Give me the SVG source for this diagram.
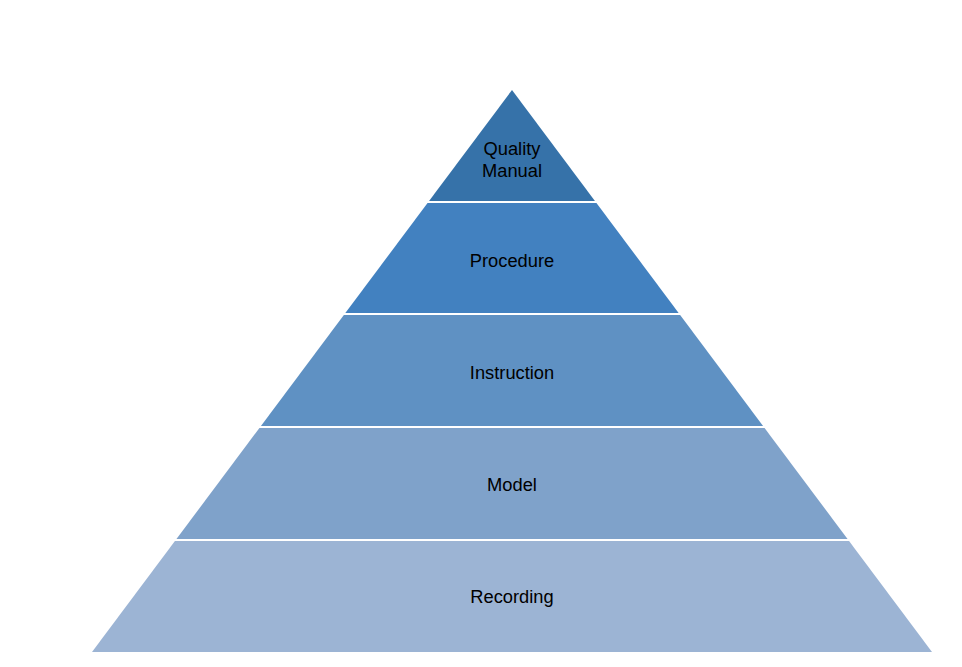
<svg xmlns="http://www.w3.org/2000/svg" width="962" height="667" viewBox="0 0 962 667">
<style>
text{font-family:"Liberation Sans",Arial,sans-serif;font-size:18.3px;fill:#000;text-anchor:middle}
.sep{stroke:#ffffff;stroke-width:2}
</style>
<rect width="962" height="667" fill="#ffffff"/>
<g id="quality-manual">
<polygon points="512,90 595.7,202 428.3,202" fill="#3672a9"/>
<text x="512" y="155">Quality</text>
<text x="512" y="177">Manual</text>
</g>
<g id="procedure">
<polygon points="428.3,202 595.7,202 679.4,314 344.6,314" fill="#4281c0"/>
<text x="512" y="267">Procedure</text>
</g>
<g id="instruction">
<polygon points="344.6,314 679.4,314 763.8,427 260.2,427" fill="#5f91c3"/>
<text x="512" y="379">Instruction</text>
</g>
<g id="model">
<polygon points="260.2,427 763.8,427 848.3,540 175.7,540" fill="#7fa2ca"/>
<text x="512" y="491">Model</text>
</g>
<g id="recording">
<polygon points="175.7,540 848.3,540 932,652 92,652" fill="#9cb4d4"/>
<text x="512" y="603">Recording</text>
</g>
<g id="connectors">
<line class="sep" x1="420" y1="202" x2="604" y2="202"/>
<line class="sep" x1="336" y1="314" x2="688" y2="314"/>
<line class="sep" x1="252" y1="427" x2="772" y2="427"/>
<line class="sep" x1="167" y1="540" x2="857" y2="540"/>
</g>
</svg>
